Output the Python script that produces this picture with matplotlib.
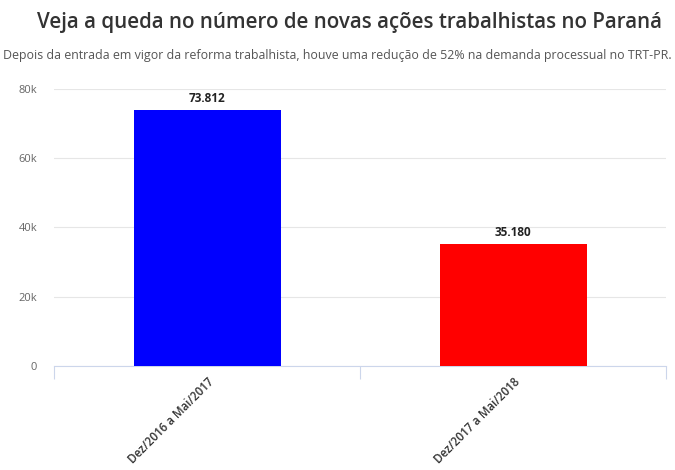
import matplotlib.pyplot as plt
from matplotlib.ticker import FuncFormatter

# dados
categorias = ['Dez/2016 a Mai/2017', 'Dez/2017 a Mai/2018']
valores = [73812, 35180]
rotulos = ['73.812', '35.180']
cores = ['#0000ff', '#ff0000']

plt.rcParams['font.family'] = ['Open Sans', 'DejaVu Sans']

fig = plt.figure(figsize=(6.75, 4.7), dpi=100)
ax = fig.add_axes([0.08, 0.221, 0.907, 0.59])

x = range(len(categorias))
ax.bar(x, valores, width=0.48, color=cores, zorder=3)

for xi, v, r in zip(x, valores, rotulos):
    ax.annotate(r, (xi, v), xytext=(0, 4), textcoords='offset points',
                ha='center', va='bottom', fontsize=8.5, fontweight='bold', color='#222222')

ax.set_xlim(-0.5, 1.5)
ax.set_ylim(0, 80000)
ax.set_yticks([0, 20000, 40000, 60000, 80000])
ax.yaxis.set_major_formatter(FuncFormatter(lambda v, p: '0' if v == 0 else f'{int(v/1000)}k'))
ax.tick_params(axis='y', length=0, labelsize=8, labelcolor='#666666', pad=12)
ax.grid(axis='y', color='#e6e6e6', linewidth=0.8, zorder=0)

# ticks nas fronteiras das categorias
ax.set_xticks([-0.5, 0.5, 1.5])
ax.set_xticklabels([])
ax.set_xticks(list(x), minor=True)
ax.set_xticklabels(categorias, minor=True, rotation=45, ha='right', rotation_mode='anchor',
                   fontsize=8.3, fontweight='semibold', color='#333333')
ax.tick_params(axis='x', which='minor', length=0, pad=7)
ax.tick_params(axis='x', which='major', length=9, color='#ccd6eb', width=0.8)

for s in ['top', 'right', 'left']:
    ax.spines[s].set_visible(False)
ax.spines['bottom'].set_color('#ccd6eb')
ax.spines['bottom'].set_linewidth(0.8)

fig.text(0.518, 0.953, 'Veja a queda no número de novas ações trabalhistas no Paraná',
         ha='center', va='center', fontsize=14.8, fontweight='semibold', color='#333333')
fig.text(0.5, 0.881, 'Depois da entrada em vigor da reforma trabalhista, houve uma redução de 52% na demanda processual no TRT-PR.',
         ha='center', va='center', fontsize=8.9, color='#555555')

fig.savefig('out.png', dpi=100, facecolor='white')
